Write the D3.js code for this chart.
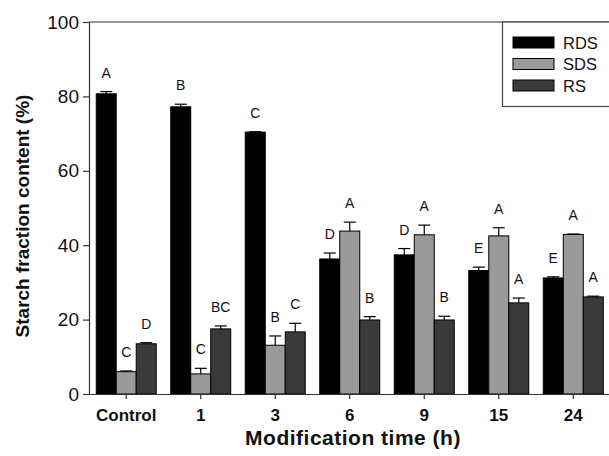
<!DOCTYPE html>
<html>
<head>
<meta charset="utf-8">
<script src="https://cdn.jsdelivr.net/npm/d3@7"></script>
<style>
  body { margin: 0; background: white; }
  text { font-family: "Liberation Sans", Arial, sans-serif; }
</style>
</head>
<body>
<div id="container"></div>
<script>
const width = 609;
const height = 456;

// categories and series
const times = ["Control", "1", "3", "6", "9", "15", "24"];
const fractions = ["RDS", "SDS", "RS"];

// values (%)
const rdsValues = [80.7, 77.2, 70.4, 36.3, 37.4, 33.2, 31.2];
const sdsValues = [6.0, 5.4, 13.1, 43.8, 42.8, 42.5, 42.9];
const rsValues  = [13.5, 17.5, 16.7, 19.9, 19.9, 24.5, 26.1];

const rdsErrors = [0.6, 0.7, 0.1, 1.6, 1.7, 0.9, 0.3];
const sdsErrors = [0.2, 1.5, 2.5, 2.4, 2.6, 2.2, 0.1];
const rsErrors  = [0.3, 0.8, 2.3, 0.9, 1.0, 1.3, 0.2];

const rdsLetters = ["A", "B", "C", "D", "D", "E", "E"];
const sdsLetters = ["C", "C", "B", "A", "A", "A", "A"];
const rsLetters  = ["D", "BC", "C", "B", "B", "A", "A"];

const yTicks = [0, 20, 40, 60, 80, 100];

const fills = { RDS: "#000000", SDS: "#9a9a9a", RS: "#3a3a3a" };

// build one row per bar
let rows = [];
for (let i = 0; i < times.length; i++) {
  rows.push({ time: times[i], key: "RDS", value: rdsValues[i], err: rdsErrors[i], letter: rdsLetters[i] });
  rows.push({ time: times[i], key: "SDS", value: sdsValues[i], err: sdsErrors[i], letter: sdsLetters[i] });
  rows.push({ time: times[i], key: "RS", value: rsValues[i], err: rsErrors[i], letter: rsLetters[i] });
}

const plotLeft = 89, plotRight = 610.5, plotTop = 22, plotBottom = 394;

const x = d3.scaleBand().domain(times).range([plotLeft, plotRight])
  .paddingInner(0.195).paddingOuter(0.097);
const xSub = d3.scaleBand().domain(fractions).range([0, x.bandwidth()]);
const y = d3.scaleLinear().domain([0, 100]).range([plotBottom, plotTop]);

let svg = d3.select("#container").append("svg")
  .attr("width", width)
  .attr("height", height)
  .style("background-color", "white");

// bars
let bars = svg.selectAll(".bar").data(rows).enter().append("g").attr("class", "bar");

function barMid(d) {
  return x(d.time) + xSub(d.key) + xSub.bandwidth() / 2;
}

bars.append("rect")
  .attr("x", d => x(d.time) + xSub(d.key))
  .attr("y", d => y(d.value))
  .attr("width", xSub.bandwidth())
  .attr("height", d => y(0) - y(d.value))
  .attr("fill", d => fills[d.key])
  .attr("stroke", "#000")
  .attr("stroke-width", 1);

// error bars (upper only)
bars.append("line")
  .attr("x1", barMid)
  .attr("x2", barMid)
  .attr("y1", d => y(d.value))
  .attr("y2", d => y(d.value + d.err))
  .attr("stroke", "#000")
  .attr("stroke-width", 1.2);

bars.append("line")
  .attr("x1", d => barMid(d) - 6)
  .attr("x2", d => barMid(d) + 6)
  .attr("y1", d => y(d.value + d.err))
  .attr("y2", d => y(d.value + d.err))
  .attr("stroke", "#000")
  .attr("stroke-width", 1.2);

// significance letters
bars.append("text")
  .attr("x", barMid)
  .attr("y", d => y(d.value + d.err) - 14)
  .attr("text-anchor", "middle")
  .attr("font-size", "14px")
  .attr("fill", "#111")
  .text(d => d.letter);

// frame top line
svg.append("line")
  .attr("x1", plotLeft).attr("x2", width)
  .attr("y1", plotTop).attr("y2", plotTop)
  .attr("stroke", "#333").attr("stroke-width", 1.2);

// axes
let yAxis = svg.append("g")
  .attr("transform", "translate(" + plotLeft + ",0)")
  .call(d3.axisLeft(y).tickValues(yTicks).tickSize(6).tickPadding(4).tickSizeOuter(0));
yAxis.selectAll("text").attr("font-size", "19px").attr("fill", "#111")
  .style("font-family", "'Liberation Sans', Arial, sans-serif");
yAxis.selectAll("path, line").attr("stroke", "#333").attr("stroke-width", 1.2);

let xAxis = svg.append("g")
  .attr("transform", "translate(0," + plotBottom + ")")
  .call(d3.axisBottom(x).tickSize(5).tickPadding(10).tickSizeOuter(0));
xAxis.select(".domain").attr("d", "M" + plotLeft + ",0.5H" + width);
xAxis.selectAll("text").attr("font-size", "17px").attr("font-weight", "bold").attr("fill", "#111")
  .style("font-family", "'Liberation Sans', Arial, sans-serif");
xAxis.selectAll("path, line").attr("stroke", "#333").attr("stroke-width", 1.2);

// axis titles
svg.append("text")
  .attr("transform", "translate(29,216) rotate(-90)")
  .attr("text-anchor", "middle")
  .attr("font-size", "19px")
  .attr("font-weight", "bold")
  .attr("fill", "#111")
  .text("Starch fraction content (%)");

svg.append("text")
  .attr("x", 353)
  .attr("y", 445)
  .attr("text-anchor", "middle")
  .attr("font-size", "21px")
  .attr("font-weight", "bold")
  .attr("letter-spacing", "0.5px")
  .attr("fill", "#111")
  .text("Modification time (h)");

// legend
let legend = svg.append("g");
legend.append("rect")
  .attr("x", 502.5).attr("y", 22)
  .attr("width", 110).attr("height", 84.5)
  .attr("fill", "white")
  .attr("stroke", "#444").attr("stroke-width", 1.2);

let items = legend.selectAll(".item").data(fractions).enter().append("g")
  .attr("transform", (d, i) => "translate(513," + (37 + i * 21.5) + ")");
items.append("rect")
  .attr("width", 41).attr("height", 11)
  .attr("fill", d => fills[d])
  .attr("stroke", "#000");
items.append("text")
  .attr("x", 50).attr("y", 11.5)
  .attr("font-size", "16.5px")
  .attr("fill", "#111")
  .text(d => d);
</script>
</body>
</html>
